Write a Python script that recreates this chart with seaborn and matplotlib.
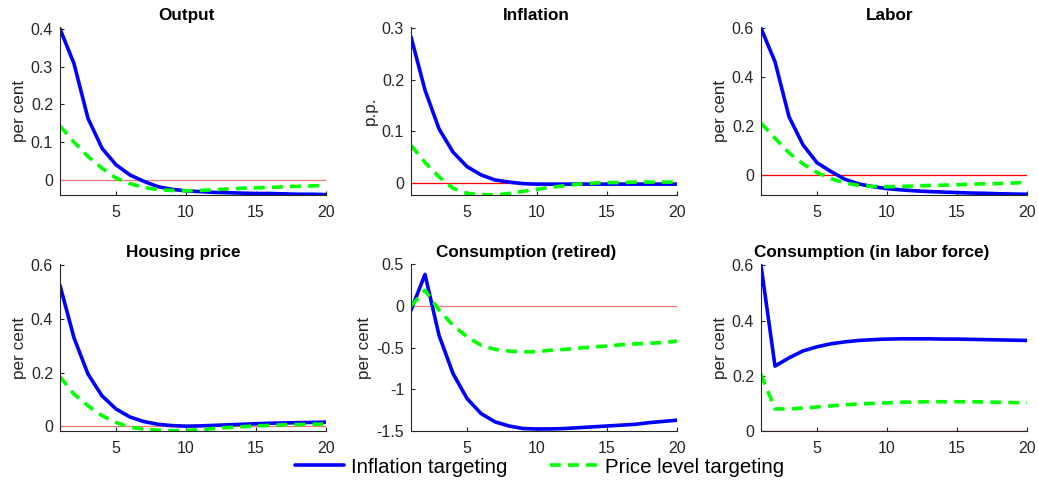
import numpy as np
import pandas as pd
import matplotlib
matplotlib.use("Agg")
import matplotlib.pyplot as plt
import seaborn as sns
from matplotlib.ticker import FuncFormatter
from matplotlib.lines import Line2D

periods = list(range(1, 21))

output_it = [0.400, 0.308, 0.163, 0.084, 0.040, 0.013, -0.004, -0.018, -0.025, -0.029,
             -0.031, -0.033, -0.034, -0.035, -0.036, -0.036, -0.037, -0.038, -0.038, -0.039]
output_plt = [0.143, 0.100, 0.062, 0.031, 0.005, -0.010, -0.020, -0.026, -0.028, -0.029,
              -0.028, -0.026, -0.024, -0.022, -0.021, -0.020, -0.018, -0.017, -0.016, -0.014]

infl_it = [0.283, 0.180, 0.105, 0.060, 0.032, 0.016, 0.006, 0.002, -0.001, -0.002,
           -0.002, -0.002, -0.002, -0.002, -0.002, -0.002, -0.002, -0.002, -0.002, -0.002]
infl_plt = [0.073, 0.040, 0.012, -0.010, -0.020, -0.022, -0.023, -0.020, -0.016, -0.012,
            -0.008, -0.005, -0.002, 0.000, 0.001, 0.001, 0.002, 0.002, 0.002, 0.002]

labor_it = [0.600, 0.463, 0.238, 0.123, 0.050, 0.014, -0.018, -0.037, -0.048, -0.056,
            -0.061, -0.065, -0.068, -0.070, -0.072, -0.074, -0.075, -0.077, -0.078, -0.079]
labor_plt = [0.212, 0.150, 0.090, 0.045, 0.010, -0.015, -0.033, -0.043, -0.047, -0.048,
             -0.047, -0.045, -0.043, -0.042, -0.040, -0.038, -0.036, -0.035, -0.033, -0.030]

house_it = [0.525, 0.330, 0.195, 0.114, 0.065, 0.035, 0.018, 0.008, 0.003, 0.001,
            0.002, 0.004, 0.006, 0.008, 0.010, 0.012, 0.013, 0.014, 0.015, 0.016]
house_plt = [0.185, 0.120, 0.077, 0.040, 0.015, -0.003, -0.010, -0.014, -0.016, -0.015,
             -0.012, -0.008, -0.004, -0.001, 0.002, 0.004, 0.006, 0.007, 0.008, 0.009]

cret_it = [-0.05, 0.38, -0.35, -0.81, -1.11, -1.29, -1.39, -1.44, -1.47, -1.476,
           -1.475, -1.47, -1.46, -1.45, -1.44, -1.43, -1.42, -1.40, -1.385, -1.37]
cret_plt = [0.00, 0.19, -0.05, -0.23, -0.37, -0.47, -0.52, -0.54, -0.55, -0.547,
            -0.53, -0.52, -0.505, -0.49, -0.48, -0.465, -0.455, -0.445, -0.44, -0.42]

clab_it = [0.600, 0.235, 0.265, 0.290, 0.305, 0.316, 0.323, 0.328, 0.331, 0.333,
           0.334, 0.334, 0.334, 0.333, 0.333, 0.332, 0.331, 0.330, 0.329, 0.328]
clab_plt = [0.205, 0.080, 0.080, 0.083, 0.087, 0.091, 0.095, 0.098, 0.100, 0.102,
            0.104, 0.105, 0.106, 0.106, 0.106, 0.106, 0.105, 0.104, 0.103, 0.102]

titles = ["Output", "Inflation", "Labor", "Housing price",
          "Consumption (retired)", "Consumption (in labor force)"]
ylabels = ["per cent", "p.p.", "per cent", "per cent", "per cent", "per cent"]
series = [(output_it, output_plt), (infl_it, infl_plt), (labor_it, labor_plt),
          (house_it, house_plt), (cret_it, cret_plt), (clab_it, clab_plt)]
ylims = [(-0.04, 0.405), (-0.023, 0.302), (-0.082, 0.605),
         (-0.017, 0.605), (-1.5, 0.505), (0.0, 0.605)]
yticks = [[0, 0.1, 0.2, 0.3, 0.4], [0, 0.1, 0.2, 0.3], [0, 0.2, 0.4, 0.6],
          [0, 0.2, 0.4, 0.6], [-1.5, -1, -0.5, 0, 0.5], [0, 0.2, 0.4, 0.6]]
policies = ["Inflation targeting", "Price level targeting"]

sns.set_theme(style="white")
plt.rcParams['font.family'] = ['Liberation Sans', 'DejaVu Sans']
plt.rcParams['axes.unicode_minus'] = False

fig = plt.figure(figsize=(10.38, 4.82), dpi=100)
W, H = 1038, 482
lefts = [60, 411, 761]
rows = [(27, 195), (264, 431)]
grey = "#262626"
palette = {"Inflation targeting": "#0000ff", "Price level targeting": "#00ff00"}
dashes = {"Inflation targeting": "", "Price level targeting": (3, 2)}
zero_col = ["#f57878", "#ff0000", "#ff0000", "#f57878", "#f57878", "#e00000"]
title_x = [0.477, 0.47, 0.485, 0.464, 0.432, 0.417]

for i in range(6):
    r, c = divmod(i, 3)
    top, bot = rows[r]
    ax = fig.add_axes([lefts[c] / W, 1 - bot / H, 266 / W, (bot - top) / H])
    it, pl = series[i]
    df = pd.DataFrame({
        "period": periods * 2,
        "value": it + pl,
        "policy": [policies[0]] * 20 + [policies[1]] * 20,
    })
    ax.axhline(0, color=zero_col[i], lw=0.9, zorder=1)
    sns.lineplot(data=df, x="period", y="value", hue="policy", style="policy",
                 palette=palette, dashes=dashes, lw=2.6, ax=ax, legend=False, zorder=2)
    ax.set_xlim(1, 20)
    ax.set_ylim(*ylims[i])
    ax.set_xticks([5, 10, 15, 20])
    ax.set_yticks(yticks[i])
    ax.yaxis.set_major_formatter(FuncFormatter(lambda v, p: "%g" % v))
    t = ax.set_title(titles[i], fontsize=12.3, fontweight="bold", color="black", pad=5)
    t.set_x(title_x[i])
    ax.set_ylabel(ylabels[i], fontsize=12.3, color=grey, labelpad=3)
    ax.set_xlabel("")
    for s in ["top", "right"]:
        ax.spines[s].set_visible(False)
    for s in ["left", "bottom"]:
        ax.spines[s].set_color(grey)
        ax.spines[s].set_linewidth(0.8)
    ax.tick_params(direction="in", length=3, width=0.8, colors=grey,
                   labelsize=11.5, left=True, bottom=True)
    ax.tick_params(axis="x", pad=7)
    ax.tick_params(axis="y", pad=5)

handles = [Line2D([], [], color="#0000ff", lw=2.6),
           Line2D([], [], color="#00ff00", lw=2.6, ls=(0, (3, 2)))]
leg = fig.legend(handles, policies, loc="center", bbox_to_anchor=(0.52, 0.031), ncol=2,
                 frameon=False, fontsize=14.7, handlelength=2.4, columnspacing=2.1,
                 handletextpad=0.3)
for txt in leg.get_texts():
    txt.set_color("black")

fig.savefig("out.png", dpi=100)
